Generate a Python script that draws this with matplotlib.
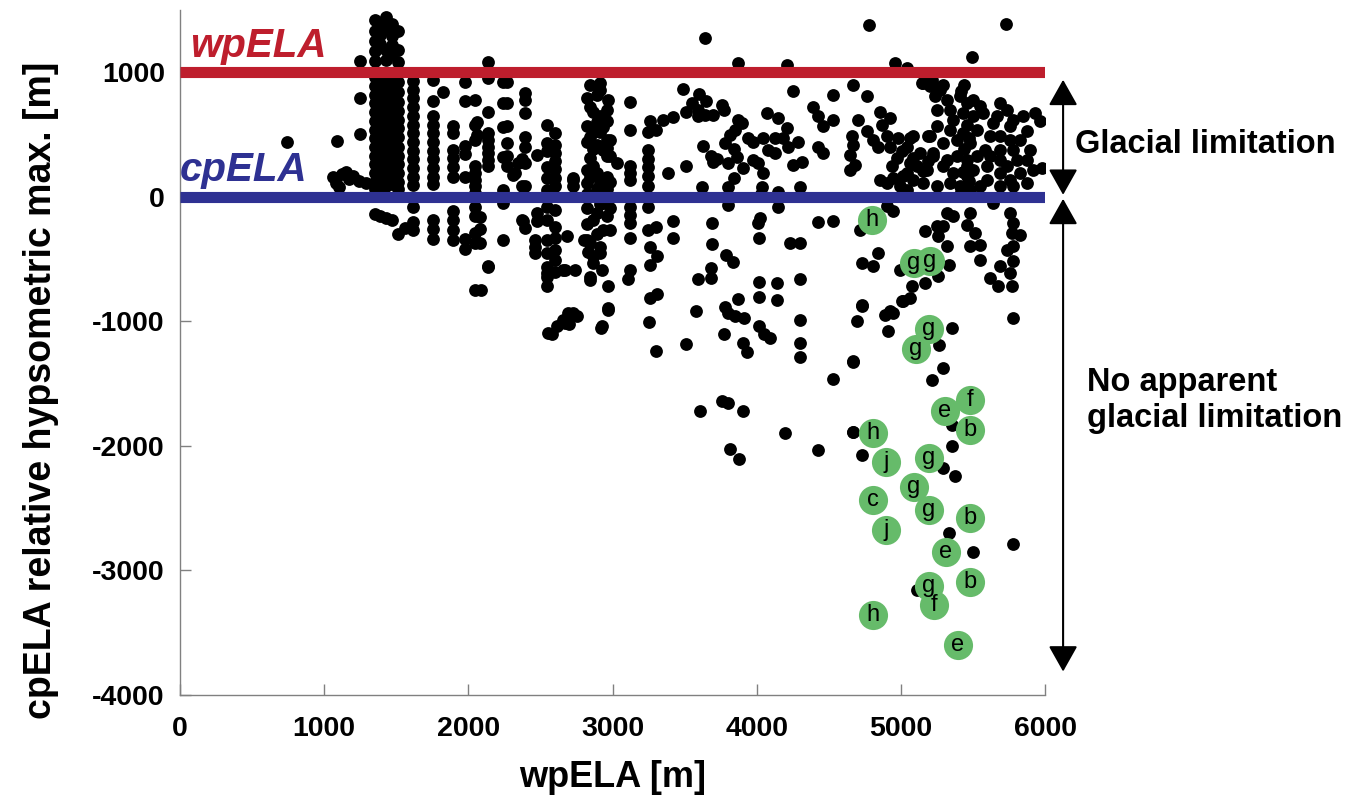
import matplotlib
matplotlib.use("Agg")
import matplotlib.pyplot as plt

plt.rcParams["axes.unicode_minus"] = False

# ---- data: wpELA [m] vs cpELA relative to hypsometric max [m] ----

# stacked columns of catchments sharing (nearly) the same wpELA
col_x = [1350, 1390, 1430, 1470, 1510, 1616, 1755, 1895, 1977, 2046, 2138,
         2265, 2392, 2545, 2601, 2821, 2867, 2913, 2960, 2983, 3121, 3249]
col_y = [
    [1420, 1330, 1250, 1170, 1090, 960, 890, 820, 750, 680, 610, 540, 470, 400, 330, 260, 190, 120, 60, -140],
    [1380, 1300, 1230, 960, 900, 830, 760, 690, 620, 550, 480, 410, 340, 270, 200, 130, 70, -150],
    [1440, 1350, 1180, 1100, 930, 860, 790, 720, 650, 580, 510, 440, 370, 300, 230, 160, 90, -170],
    [1390, 1290, 1220, 1150, 950, 870, 800, 730, 660, 590, 520, 450, 380, 310, 240, 170, 100, -190],
    [1330, 1180, 1080, 920, 840, 760, 690, 620, 550, 480, 400, 330, 260, 190, 120, 60, -300],
    [930, 860, 790, 720, 650, 580, 510, 440, 370, 300, 230, 160, 95, -80, -200, -265],
    [940, 770, 650, 580, 510, 440, 370, 300, 230, 160, 105, -190, -260, -340],
    [570, 515, 375, 310, 240, 160, -110, -190, -270, -345],
    [925, 770, 410, 340, 160, -340, -420],
    [779, 578, 458, 244, 190, 137, 83, 30, -78, -158, -292, -372, -746],
    [1086, 952, 685, 511, 458, 404, 351, 297, 244, -559],
    [926, 752, 565, 431, 324, 244],
    [832, 780, 672, 484, 404, 270, 83, -251],
    [580, 430, 370, 240, 150, 55, -80, -185, -345, -450, -560, -640, -720],
    [510, 420, 350, 290, 220, 150, 83, -104, -240, -330, -425, -506, -600],
    [792, 565, 444, 217, 110, -91, -345],
    [685, 524, 380, 250, -185, -479],
    [912, 859, 645, 520, 110, -399, -452],
    [605, 460, 330, 163, -20],
    [458, 324, 123, -91, -265],
    [765, 538, 244, 190, 137, -78, -145, -211, -332, -586],
    [524, 377, 300, 240, 170, 83, -78, -265],
]

# scattered catchments, west (wpELA < 3000 m)
west_pts = [
    (740, 440), (1087, 452), (1249, 505), (1249, 794), (1249, 1094), (1060, 160),
    (1100, 80), (1150, 200), (1200, 170), (1240, 130), (1290, 110), (1080, 110),
    (1170, 140), (1120, 180), (1560, -250), (1825, 845), (2060, 600), (2060, 500),
    (2080, -160), (2080, -260), (2080, -370), (2090, -745), (2137, -560), (2242, -51),
    (2242, -345), (2240, 920), (2240, 750), (2240, 560), (2240, 320), (2240, 56),
    (2312, 177), (2346, 270), (2369, 83), (2325, 190), (2370, 300), (2370, -185),
    (2381, -198), (2473, 337), (2473, -131), (2473, -198), (2462, -345), (2462, -400),
    (2462, -452), (2543, -613), (2554, -1094), (2612, -1040), (2658, -586), (2658, -987),
    (2681, -318), (2693, -934), (2725, 135), (2728, 150), (2728, 83), (2580, -1100),
    (2700, -1020), (2750, -960), (2800, -345), (2830, -440), (2865, -530), (2845, -640),
    (2671, -586), (2740, -586), (2844, -666), (2925, -586), (2971, -719), (2971, -893),
    (2925, -1040), (2728, -934), (2671, -1014), (2844, -372), (2937, -265), (2890, -131),
    (2937, -24), (2844, 3), (2890, 190), (2937, 377), (2844, 310), (3029, 270),
    (2971, 778), (2844, 725), (2844, 900), (2890, 820), (2960, 700), (2890, 600),
    (2937, 560), (2844, 480), (2890, 420), (2960, 390), (2844, 160), (2890, 60),
    (2960, 60), (2820, 20), (2913, -60), (2960, -150), (2821, -220), (2890, -300),
    (2970, -907), (2921, -1051),
]

# scattered catchments, centre (3000-4600 m)
mid_pts = [
    (3641, 1275), (3870, 1075), (4210, 1060), (3490, 867), (3600, 827), (4252, 850),
    (3550, 750), (3590, 700), (3650, 770), (3700, 660), (3760, 740), (3770, 700),
    (3640, 660), (3590, 650), (3260, 610), (3300, 540), (3350, 620), (3420, 640),
    (3510, 680), (3873, 618), (3900, 594), (3815, 498), (3850, 538), (3942, 474),
    (3977, 441), (4046, 475), (4127, 475), (4185, 474), (4208, 554), (4289, 441),
    (4072, 674), (4150, 634), (4392, 722), (4427, 650), (4461, 570), (4530, 819),
    (4530, 618), (4427, 401), (4461, 353), (3386, 190), (3510, 249), (3630, 409),
    (3680, 330), (3725, 300), (3700, 281), (3780, 433), (3840, 380), (3860, 320),
    (3800, 270), (3840, 152), (3905, 230), (3977, 297), (4010, 273), (4046, 193),
    (4080, 377), (4130, 353), (4217, 401), (4252, 257), (4313, 281), (4300, 80),
    (3620, 80), (3800, 80), (4040, 80), (4150, 40), (4030, 20),
    (3300, -241), (3420, -193), (3420, -329), (3690, -209), (3690, -377), (3800, -64),
    (4010, -209), (4020, -168), (4015, -329), (4150, -80), (4230, -370), (4300, -370),
    (4427, -200), (4530, -193), (3260, -400), (3310, -473), (3260, -546), (3787, -465),
    (3836, -522), (3683, -570), (3683, -650), (3107, -658), (3593, -658), (3260, -810),
    (3310, -778), (3873, -818), (4016, -682), (4016, -802), (4140, -690), (4140, -826),
    (4300, -658), (3580, -915), (3780, -883), (3800, -930), (3850, -960), (3912, -970),
    (3253, -1003), (4016, -1035), (4050, -1100), (4090, -1131), (4300, -987), (4300, -1172),
    (4300, -1284), (3773, -1100), (3510, -1180), (3300, -1236), (3905, -1172), (3933, -1244),
    (4530, -1460), (3607, -1717), (3760, -1637), (3800, -1653), (3905, -1717), (3815, -2022),
    (3877, -2103), (4196, -1894), (4425, -2030),
]

# scattered catchments, east (> 4600 m)
east_pts = [
    (4780, 1380), (5730, 1388), (5495, 1124), (4960, 1075), (5040, 1035), (4670, 899),
    (4765, 810), (5144, 915), (5200, 890), (5270, 883), (4855, 685), (4925, 632),
    (4867, 578), (4705, 618), (4763, 525), (4659, 485), (4670, 418), (4809, 458),
    (4844, 404), (4647, 337), (4682, 257), (4647, 217), (4902, 485), (4925, 404),
    (4983, 471), (5064, 471), (5006, 364), (5087, 311), (4971, 311), (4936, 244),
    (5110, 244), (5040, 190), (4855, 137), (4902, 110), (4948, 150), (5156, 204),
    (5191, 284), (5225, 351), (5191, 485), (5040, 56), (4994, 83),
    (5156, 913), (5214, 940), (5295, 899), (5271, 859), (5237, 806), (5318, 779),
    (5248, 699), (5341, 699), (5410, 806), (5456, 752), (5503, 779), (5549, 726),
    (5433, 672), (5364, 619), (5503, 645), (5572, 672), (5688, 752), (5734, 699),
    (5664, 645), (5780, 619), (5849, 645), (5757, 565), (5641, 592), (5930, 672),
    (5965, 605), (5873, 525), (5248, 565), (5341, 538), (5433, 512), (5526, 538),
    (5618, 485), (5688, 485), (5757, 458), (5826, 458), (5896, 378), (5780, 378),
    (5688, 378), (5584, 378), (5480, 431), (5387, 458), (5295, 431), (5202, 485),
    (5086, 485), (5040, 404), (5133, 351), (5225, 324), (5318, 298), (5387, 324),
    (5456, 298), (5526, 324), (5618, 324), (5688, 298), (5734, 244), (5803, 298),
    (5873, 298), (5977, 231), (5919, 217), (5826, 190), (5757, 137), (5688, 190),
    (5595, 244), (5503, 217), (5456, 164), (5364, 190), (5295, 244), (5179, 217),
    (5063, 271), (5017, 164), (5086, 137), (5156, 110), (5248, 84), (5341, 110),
    (5410, 84), (5480, 57), (5549, 84), (5595, 137), (5688, 84), (5780, 84),
    (5873, 110), (5440, 900), (5420, 850), (5460, 580), (5470, 470), (5440, 380),
    (5460, 250), (5430, 200), (5470, 130), (5420, 40),
    (5318, -131), (5364, -157), (5295, -238), (5480, -131), (5456, -224), (5514, -291),
    (5641, -50), (5757, -131), (5780, -211), (5769, -291), (5826, -304), (5248, -238),
    (5167, -278), (5260, -318), (5318, -398), (5480, -398), (5549, -385), (5734, -425),
    (5780, -398), (5549, -505), (5688, -559), (5780, -518), (5757, -612), (5336, -545),
    (5260, -639), (5075, -719), (5063, -813), (5618, -652), (5676, -719), (5769, -719),
    (4948, -117), (4902, -77), (4717, -265), (4844, -452), (4728, -532), (4809, -558),
    (4994, -585), (5168, -692), (5006, -840), (4925, -920), (4890, -947), (4728, -866),
    (4694, -1000), (4913, -1080), (5353, -1053), (5780, -973), (4670, -1322), (4728, -875),
    (4948, -934), (5017, -840), (5265, -1188), (5290, -1375), (5214, -1469), (4668, -1324),
    (5353, -1830), (4670, -1892), (4728, -2071), (5353, -2004), (5295, -2178), (5376, -2245),
    (5336, -2700), (5498, -2855), (5776, -2788), (5110, -3154), (4668, -1886),
]

# labelled catchments
lab_x = [4800, 5091, 5202, 5195, 5105, 5306, 5479, 5479, 4807, 4897, 5195,
         4807, 5091, 5195, 4897, 5479, 5313, 5479, 5195, 5230, 4807, 5396]
lab_y = [-185, -530, -514, -1059, -1220, -1718, -1629, -1870, -1894, -2127, -2095,
         -2432, -2328, -2512, -2673, -2576, -2849, -3090, -3122, -3275, -3355, -3596]
lab_txt = ["h", "g", "g", "g", "g", "e", "f", "b", "h", "j", "g",
           "c", "g", "g", "j", "b", "e", "b", "g", "f", "h", "e"]

wp_ela = 1000   # level of the wpELA line
cp_ela = 0      # level of the cpELA line

# ---- plotting ----
xs = []
ys = []
for cx, cys in zip(col_x, col_y):
    for cy in cys:
        xs.append(cx)
        ys.append(cy)
for px, py in west_pts + mid_pts + east_pts:
    xs.append(px)
    ys.append(py)

arial = ["Liberation Sans", "DejaVu Sans"]

fig = plt.figure(figsize=(13.67, 8.08), dpi=100)
ax = fig.add_axes([0.1317, 0.1399, 0.6328, 0.8477])

ax.scatter(xs, ys, s=85, c="black", linewidths=0, zorder=2)

ax.plot([0, 6000], [wp_ela, wp_ela], color="#be1e2d", lw=8, solid_capstyle="butt", zorder=3)
ax.plot([0, 6000], [cp_ela, cp_ela], color="#2e3192", lw=8, solid_capstyle="butt", zorder=3)
ax.text(70, wp_ela + 60, "wpELA", color="#be1e2d", fontsize=29, fontweight="bold",
        style="italic", family=arial, va="bottom", ha="left", zorder=4)
ax.text(0, cp_ela + 60, "cpELA", color="#2e3192", fontsize=29, fontweight="bold",
        style="italic", family=arial, va="bottom", ha="left", zorder=4)

ax.scatter(lab_x, lab_y, s=440, c="#66bb6a", linewidths=0, zorder=5)
for lx, ly, t in zip(lab_x, lab_y, lab_txt):
    ax.text(lx, ly, t, fontsize=17, family=arial, ha="center", va="center", zorder=6)

ax.set_xlim(0, 6000)
ax.set_ylim(-4000, 1500)
ax.set_xticks(range(0, 6001, 1000))
ax.set_yticks(range(-4000, 1001, 1000))

for side in ("top", "right"):
    ax.spines[side].set_visible(False)
for side in ("left", "bottom"):
    ax.spines[side].set_color("#808080")
    ax.spines[side].set_linewidth(1)

ax.tick_params(direction="in", length=8, color="#808080", width=1)
ax.tick_params(axis="x", pad=15)
ax.tick_params(axis="y", pad=11)
for lbl in ax.get_xticklabels() + ax.get_yticklabels():
    lbl.set_family(arial)
    lbl.set_fontweight("bold")
    lbl.set_fontsize(20.5)

ax.set_xlabel("wpELA [m]", family=arial, fontweight="bold", fontsize=26)
ax.xaxis.set_label_coords(0.5, -0.095)
ax.set_ylabel("cpELA relative hypsometric max. [m]", family=arial, fontweight="bold", fontsize=27)
ax.yaxis.set_label_coords(-0.14, 0.445)

# range annotations beside the axes
arrow = dict(arrowstyle="<|-|>,head_length=0.8,head_width=0.45", color="black", lw=1.5,
             mutation_scale=20, shrinkA=0, shrinkB=0)
ax.annotate("", xy=(6125, 940), xytext=(6125, 16), arrowprops=arrow, annotation_clip=False)
ax.annotate("", xy=(6125, -16), xytext=(6125, -3812), arrowprops=arrow, annotation_clip=False)
ax.text(6208, 417, "Glacial limitation", family=arial, fontweight="bold", fontsize=23.5,
        ha="left", va="center", clip_on=False)
ax.text(6291, -1637, "No apparent\nglacial limitation", family=arial, fontweight="bold",
        fontsize=23.5, ha="left", va="center", linespacing=1.2, clip_on=False)

fig.savefig("out.png", dpi=100)
